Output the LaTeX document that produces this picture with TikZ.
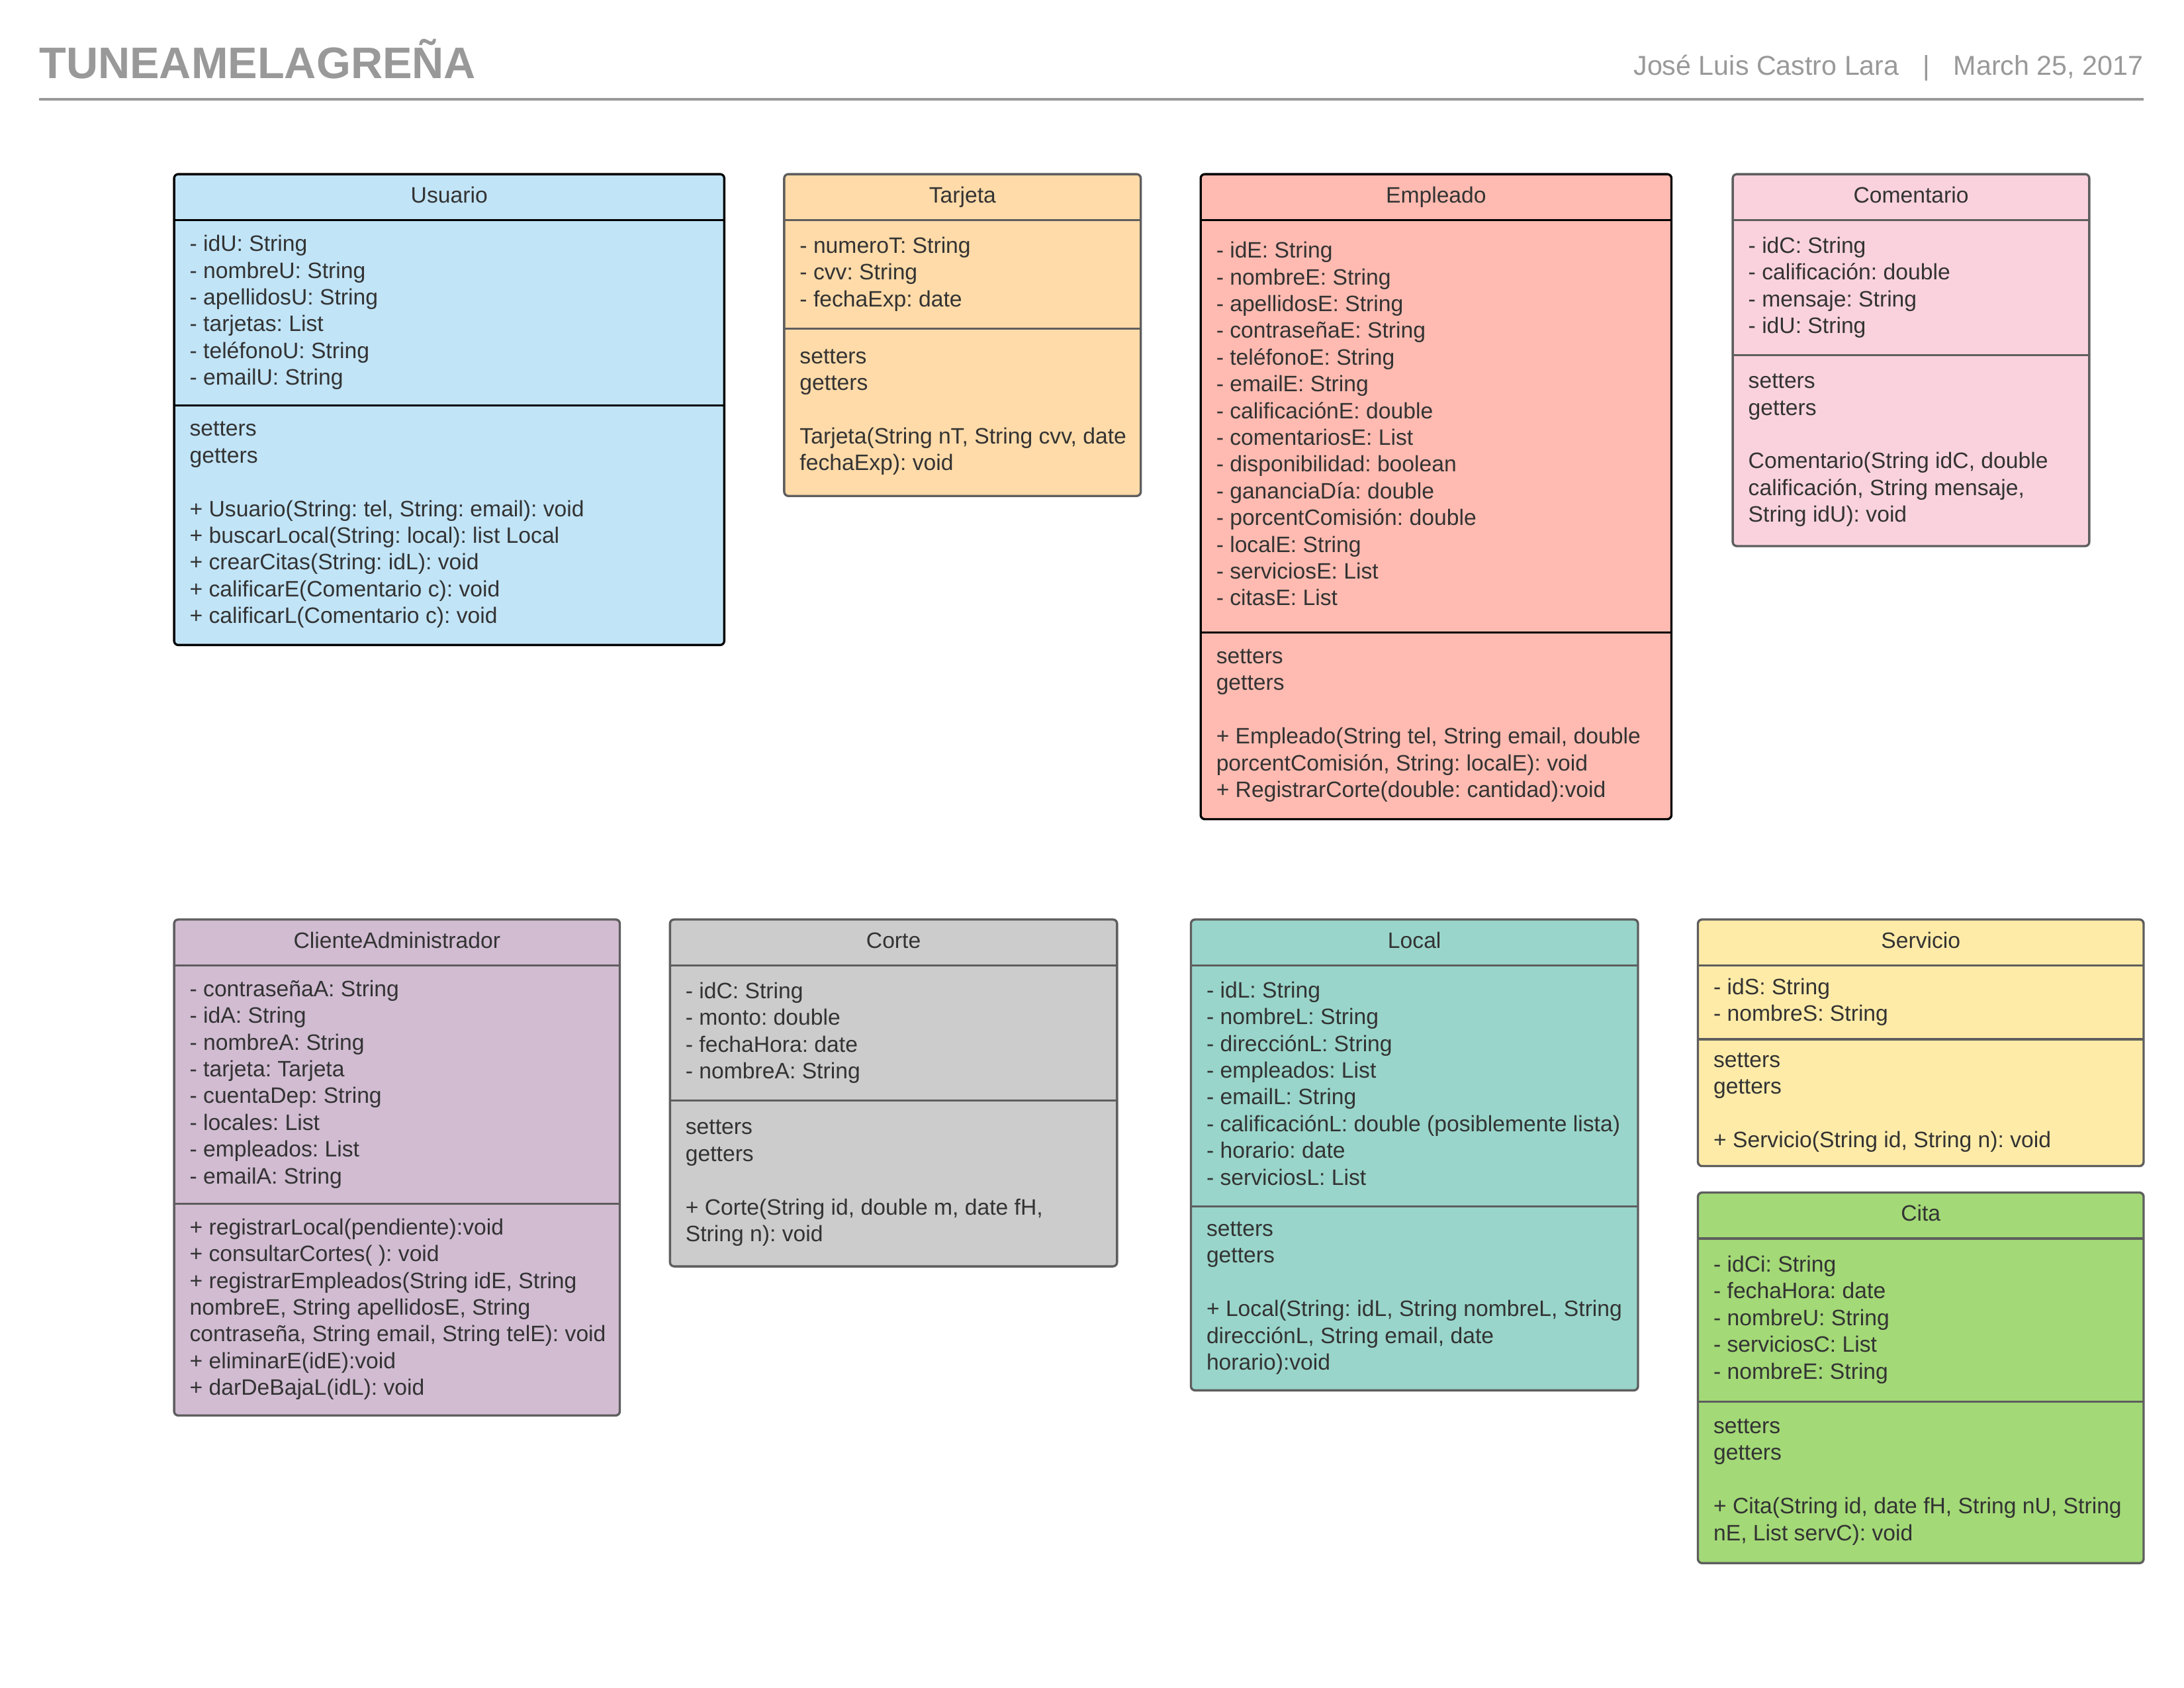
\documentclass[tikz,border=0pt]{standalone}
\usepackage{fontspec}
\setmainfont{Liberation Sans}
\frenchspacing
\definecolor{usuario}{HTML}{C1E4F7}
\definecolor{tarjeta}{HTML}{FFDBA9}
\definecolor{empleado}{HTML}{FFBBB1}
\definecolor{comentario}{HTML}{F9D2DE}
\definecolor{cliente}{HTML}{D1BCD2}
\definecolor{corte}{HTML}{CCCCCC}
\definecolor{local}{HTML}{99D5CA}
\definecolor{servicio}{HTML}{FFEBA8}
\definecolor{cita}{HTML}{A3D977}
\definecolor{linea}{HTML}{5E5E5E}
\definecolor{texto}{HTML}{333333}
\definecolor{cabecera}{HTML}{999999}
% #1 nombre, #2 relleno, #3 borde, #4 x izq, #5 x der, #6 y arriba, #7 y cabecera, #8 y separador, #9 y abajo
\newcommand{\clase}[9]{
	\draw[caja,fill=#2,draw=#3] (#4,#6) rectangle (#5,#9);
	\draw[caja,draw=#3] (#4,#7)--(#5,#7) (#4,#8)--(#5,#8);
	\node[nombre] (#1) at ({(#4+#5)/2},{(#6+#7)/2}) {#1};
	\coordinate (#1-a) at (#4,{(#7+#8)/2});
	\coordinate (#1-m) at (#4,{(#8+#9)/2});
}
\begin{document}
\begin{tikzpicture}[x=1pt,y=-1pt,line join=round]
	\tikzset{
		caja/.style={rounded corners=3pt,line width=1.6pt},
		nombre/.style={text=texto,inner sep=0pt,text height=11.5pt,text depth=3.4pt,font=\fontsize{16}{19.2}\selectfont},
		miembros/.style={anchor=west,align=left,text=texto,inner xsep=11pt,inner ysep=0pt,yshift=-1pt,
			font=\fontsize{16}{19.2}\selectfont,execute at begin node=\strut,execute at end node=\strut}
	}
	\path[fill=white,use as bounding box] (0,0) rectangle (1568,1211.6);
	\node[anchor=base west,inner sep=0pt,text=cabecera,font=\fontsize{31.7}{38}\selectfont\bfseries] (titulo) at (28,56.2) {TUNEAMELAGREÑA};
	\node[anchor=base east,inner sep=0pt,text=cabecera,font=\fontsize{19.6}{23.5}\selectfont] (autor) at (1539,54) {José Luis Castro Lara\hspace{17pt}|\hspace{17pt}March 25, 2017};
	\coordinate (r1) at (28,71.3);
	\coordinate (r2) at (1539,71.3);
	\draw[cabecera,line width=2pt] (r1)--(r2);

	\clase{Usuario}{usuario}{black}{125}{520}{125}{158}{291}{463}
	\node[miembros] (usuarioA) at (Usuario-a) {- idU: String\\- nombreU: String\\- apellidosU: String\\- tarjetas: List\\- teléfonoU: String\\- emailU: String};
	\node[miembros] (usuarioM) at (Usuario-m) {setters\\getters\\[19.2pt]+ Usuario(String: tel, String: email): void\\+ buscarLocal(String: local): list Local\\+ crearCitas(String: idL): void\\+ calificarE(Comentario c): void\\+ calificarL(Comentario c): void};

	\clase{Tarjeta}{tarjeta}{linea}{563}{819}{125}{158}{236}{356}
	\node[miembros] (tarjetaA) at (Tarjeta-a) {- numeroT: String\\- cvv: String\\- fechaExp: date};
	\node[miembros] (tarjetaM) at (Tarjeta-m) {setters\\getters\\[19.2pt]Tarjeta(String nT, String cvv, date\\fechaExp): void};

	\clase{Empleado}{empleado}{black}{862}{1200}{125}{158}{454}{588}
	\node[miembros] (empleadoA) at (Empleado-a) {- idE: String\\- nombreE: String\\- apellidosE: String\\- contraseñaE: String\\- teléfonoE: String\\- emailE: String\\- calificaciónE: double\\- comentariosE: List\\- disponibilidad: boolean\\- gananciaDía: double\\- porcentComisión: double\\- localE: String\\- serviciosE: List\\- citasE: List};
	\node[miembros] (empleadoM) at (Empleado-m) {setters\\getters\\[19.2pt]+ Empleado(String tel, String email, double\\porcentComisión, String: localE): void\\+ RegistrarCorte(double: cantidad):void};

	\clase{Comentario}{comentario}{linea}{1244}{1500}{125}{158}{255}{392}
	\node[miembros] (comentarioA) at (Comentario-a) {- idC: String\\- calificación: double\\- mensaje: String\\- idU: String};
	\node[miembros] (comentarioM) at (Comentario-m) {setters\\getters\\[19.2pt]Comentario(String idC, double\\calificación, String mensaje,\\String idU): void};

	\clase{ClienteAdministrador}{cliente}{linea}{125}{445}{660}{693}{864}{1016}
	\node[miembros] (clienteA) at (ClienteAdministrador-a) {- contraseñaA: String\\- idA: String\\- nombreA: String\\- tarjeta: Tarjeta\\- cuentaDep: String\\- locales: List\\- empleados: List\\- emailA: String};
	\node[miembros] (clienteM) at (ClienteAdministrador-m) {+ registrarLocal(pendiente):void\\+ consultarCortes( ): void\\+ registrarEmpleados(String idE, String\\nombreE, String apellidosE, String\\contraseña, String email, String telE): void\\+ eliminarE(idE):void\\+ darDeBajaL(idL): void};

	\clase{Corte}{corte}{linea}{481}{802}{660}{693}{790}{909}
	\node[miembros] (corteA) at (Corte-a) {- idC: String\\- monto: double\\- fechaHora: date\\- nombreA: String};
	\node[miembros] (corteM) at (Corte-m) {setters\\getters\\[19.2pt]+ Corte(String id, double m, date fH,\\String n): void};

	\clase{Local}{local}{linea}{855}{1176}{660}{693}{866}{998}
	\node[miembros] (localA) at (Local-a) {- idL: String\\- nombreL: String\\- direcciónL: String\\- empleados: List\\- emailL: String\\- calificaciónL: double (posiblemente lista)\\- horario: date\\- serviciosL: List};
	\node[miembros] (localM) at (Local-m) {setters\\getters\\[19.2pt]+ Local(String: idL, String nombreL, String\\direcciónL, String email, date\\horario):void};

	\clase{Servicio}{servicio}{linea}{1219}{1539}{660}{693}{746}{837}
	\node[miembros] (servicioA) at (Servicio-a) {- idS: String\\- nombreS: String};
	\node[miembros] (servicioM) at (Servicio-m) {setters\\getters\\[19.2pt]+ Servicio(String id, String n): void};

	\clase{Cita}{cita}{linea}{1219}{1539}{856}{889}{1006}{1122}
	\node[miembros] (citaA) at (Cita-a) {- idCi: String\\- fechaHora: date\\- nombreU: String\\- serviciosC: List\\- nombreE: String};
	\node[miembros] (citaM) at (Cita-m) {setters\\getters\\[19.2pt]+ Cita(String id, date fH, String nU, String\\nE, List servC): void};
\end{tikzpicture}
\end{document}
